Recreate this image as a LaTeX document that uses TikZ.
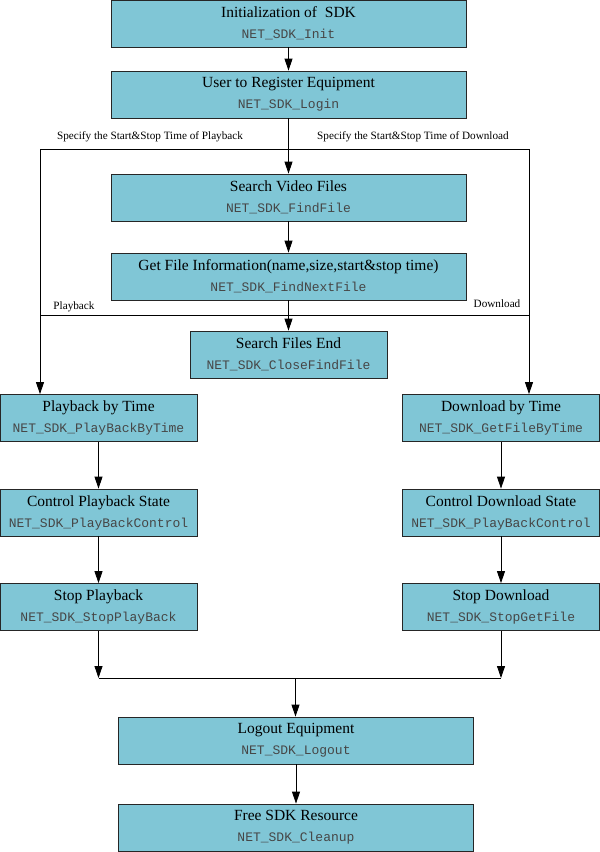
\documentclass[tikz,border=0pt]{standalone}
\usepackage{fontspec}
\setmainfont{Liberation Serif}
\setmonofont{Liberation Mono}
\usepackage{xcolor}
\usetikzlibrary{arrows.meta,positioning}
\definecolor{boxfill}{RGB}{128,198,214}
\definecolor{codegray}{RGB}{70,70,70}
\newcommand{\api}[1]{{\fontsize{13}{15}\selectfont\ttfamily\color{codegray}#1}}

\begin{document}
\begin{tikzpicture}[x=1pt,y=-1pt,
		box/.style={draw=black!85,line width=0.8pt,fill=boxfill,minimum height=47pt,inner sep=0pt,align=center,font=\fontsize{15.5}{21}\selectfont},
		wide/.style={box,minimum width=355pt},
		narrow/.style={box,minimum width=197pt},
		flow/.style={line width=0.8pt,-{Triangle[length=12pt,width=8pt]}},
		note/.style={font=\fontsize{11.2}{13}\selectfont}]
			\useasboundingbox (0,0) rectangle (600,852);
			\node[wide] (init) at (288.5,23.5) {Initialization of\ \ SDK\\\api{NET\_SDK\_Init}};
			\node[wide] (reg) at (288.5,94.5) {User to Register Equipment\\\api{NET\_SDK\_Login}};
			\node[wide] (search) at (288.5,197.5) {Search Video Files\\\api{NET\_SDK\_FindFile}};
			\node[wide] (info) at (288.5,276.5) {Get File Information(name,size,start\&stop time)\\\api{NET\_SDK\_FindNextFile}};
			\node[narrow] (send) at (288.5,354.5) {Search Files End\\\api{NET\_SDK\_CloseFindFile}};
			\node[narrow] (pbt) at (98.5,418) {Playback by Time\\\api{NET\_SDK\_PlayBackByTime}};
			\node[narrow] (dlt) at (501,418) {Download by Time\\\api{NET\_SDK\_GetFileByTime}};
			\node[narrow] (pbc) at (98.5,512.5) {Control Playback State\\\api{NET\_SDK\_PlayBackControl}};
			\node[narrow] (dlc) at (501,512.5) {Control Download State\\\api{NET\_SDK\_PlayBackControl}};
			\node[narrow] (pbs) at (98.5,607) {Stop Playback\\\api{NET\_SDK\_StopPlayBack}};
			\node[narrow] (dls) at (501,607) {Stop Download\\\api{NET\_SDK\_StopGetFile}};
			\node[wide] (logout) at (296,740.5) {Logout Equipment\\\api{NET\_SDK\_Logout}};
			\node[wide] (free) at (296,827.5) {Free SDK Resource\\\api{NET\_SDK\_Cleanup}};
			\coordinate (brL) at (40,149);
			\coordinate (brR) at (529,149);
			\coordinate (pbL) at (40,315);
			\coordinate (dlR) at (529,315);
			\coordinate (mgL) at (98.5,678);
			\coordinate (mgR) at (501,678);
			\coordinate (mgC) at (295.5,678);
			\draw[flow] (init) -- (reg);
			\draw[flow] (reg) -- (search);
			\draw[flow] (search) -- (info);
			\draw[flow] (info) -- (send);
			\draw[line width=0.8pt] (brL) -- (brR);
			\draw[line width=0.8pt] (pbL) -- (dlR);
			\draw[flow] (brL) -- (brL |- pbt.north);
			\draw[flow] (brR) -- (brR |- dlt.north);
			\draw[flow] (pbt) -- (pbc);
			\draw[flow] (pbc) -- (pbs);
			\draw[flow] (dlt) -- (dlc);
			\draw[flow] (dlc) -- (dls);
			\draw[flow] (pbs) -- (mgL);
			\draw[flow] (dls) -- (mgR);
			\draw[line width=0.8pt] (mgL) -- (mgR);
			\draw[flow] (mgC) -- (mgC |- logout.north);
			\draw[flow] (logout) -- (free);
			\node[note] (lblpb) at (150,137) {Specify the Start\&Stop Time of Playback};
			\node[note] (lbldl) at (413,137) {Specify the Start\&Stop Time of Download};
			\node[note] (pbword) at (74,307) {Playback};
			\node[note] (dlword) at (497,304) {Download};
		\end{tikzpicture}
\end{document}
